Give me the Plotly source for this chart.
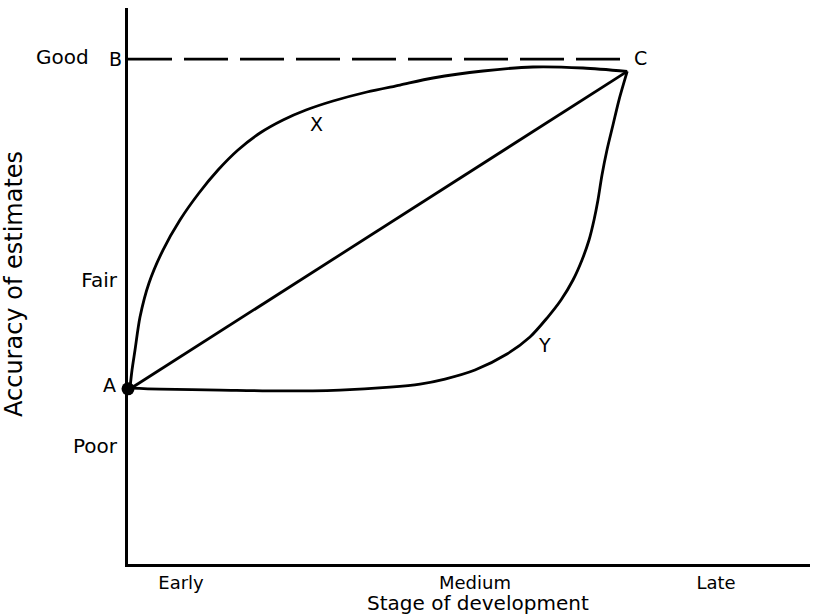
import plotly.graph_objects as go

# ---- data (x: stage of development 0-100, y: accuracy of estimates 0-100) ----
curve_x_stage = [0.29, 0.59, 1.03, 1.76, 3.08, 5.13, 7.62, 10.41, 13.20, 16.13, 19.35, 22.73, 26.10,
                 30.06, 35.04, 39.88, 44.72, 52.05, 59.38, 66.72, 73.2]
curve_x_acc = [31.65, 34.89, 38.49, 44.42, 50.54, 56.47, 61.87, 66.73, 70.86, 74.46, 77.52, 79.86, 81.65,
               83.27, 84.89, 86.15, 87.41, 88.67, 89.39, 89.21, 88.6]

curve_y_stage = [0.29, 4.69, 13.49, 22.29, 31.09, 38.42, 42.82, 46.48, 50.88, 55.57, 58.94, 61.44,
                 63.49, 65.25, 66.57, 67.60, 68.33, 68.91, 69.50, 70.23, 71.11, 71.99, 73.2]
curve_y_acc = [31.65, 31.47, 31.29, 31.12, 31.29, 31.83, 32.37, 33.27, 34.89, 37.77, 40.83, 44.24,
               47.48, 51.08, 54.68, 58.27, 61.87, 65.47, 69.96, 74.46, 78.96, 83.45, 88.6]

diag_stage = [0.73, 73.2]
diag_acc = [31.83, 88.6]

bc_stage = [0.0, 72.9]
bc_acc = [90.8, 90.8]

point_a = (0.0, 31.5)

x_tick_vals = [7.77, 50.88, 86.22]
x_tick_text = ["Early", "Medium", "Late"]
y_tick_vals = [21.22, 51.08]
y_tick_text = ["Poor", "Fair"]
good_level = 91.2

FONT = "DejaVu Sans"
LW = 2.8

fig = go.Figure()
fig.add_trace(go.Scatter(x=bc_stage, y=bc_acc, mode="lines",
                         line=dict(color="black", width=LW, dash="44px,12px")))
fig.add_trace(go.Scatter(x=curve_x_stage, y=curve_x_acc, mode="lines",
                         line=dict(color="black", width=LW, shape="spline", smoothing=0.8)))
fig.add_trace(go.Scatter(x=curve_y_stage, y=curve_y_acc, mode="lines",
                         line=dict(color="black", width=LW, shape="spline", smoothing=0.8)))
fig.add_trace(go.Scatter(x=diag_stage, y=diag_acc, mode="lines",
                         line=dict(color="black", width=LW)))
fig.add_trace(go.Scatter(x=[point_a[0]], y=[point_a[1]], mode="markers",
                         marker=dict(color="black", size=13), cliponaxis=False))

ann_font = dict(family=FONT, size=19, color="black")
annotations = [
    dict(x=point_a[0], y=point_a[1], text="A", xanchor="right", yanchor="middle", xshift=-10, yshift=4),
    dict(x=0, y=bc_acc[0], text="B", xanchor="right", yanchor="middle", xshift=-4, yshift=0),
    dict(x=curve_x_stage[-1], y=bc_acc[0], text="C", xanchor="left", yanchor="middle", xshift=5, yshift=1),
    dict(x=27.7, y=79.1, text="X", xanchor="center", yanchor="middle"),
    dict(x=61.0, y=39.4, text="Y", xanchor="center", yanchor="middle"),
]
for a in annotations:
    a.update(xref="x", yref="y", showarrow=False, font=ann_font)

# "Good" level label on the accuracy axis
annotations.append(dict(x=0, y=good_level, xref="x", yref="y", text="Good", showarrow=False,
                        xanchor="right", yanchor="middle", xshift=-37,
                        font=dict(family=FONT, size=20, color="black")))

# axis titles
annotations.append(dict(x=0.513, y=0, xref="paper", yref="paper", yshift=-39, text="Stage of development",
                        showarrow=False, xanchor="center", yanchor="middle",
                        font=dict(family=FONT, size=20, color="black")))
annotations.append(dict(x=0, y=0.5, xref="paper", yref="paper", xshift=-114, yshift=2,
                        text="Accuracy of estimates", textangle=-90, showarrow=False,
                        xanchor="center", yanchor="middle",
                        font=dict(family=FONT, size=24, color="black")))

fig.update_layout(
    width=826, height=614,
    margin=dict(l=128, r=16, t=8, b=50),
    paper_bgcolor="white", plot_bgcolor="white",
    showlegend=False,
    annotations=annotations,
    xaxis=dict(range=[0, 100], showgrid=False, zeroline=False, showline=True, linecolor="black",
               linewidth=3, tickvals=x_tick_vals, ticktext=x_tick_text, ticks="",
               tickfont=dict(family=FONT, size=18, color="black"), ticklabelstandoff=0,
               automargin=False),
    yaxis=dict(range=[0, 100], showgrid=False, zeroline=False, showline=True, linecolor="black",
               linewidth=3, tickvals=y_tick_vals, ticktext=y_tick_text, ticks="",
               tickfont=dict(family=FONT, size=20, color="black"), ticklabelstandoff=4,
               automargin=False),
)

fig.write_html("out.html", config={"displayModeBar": False},
               post_script="document.body.style.margin='0';document.body.style.overflow='hidden';")
